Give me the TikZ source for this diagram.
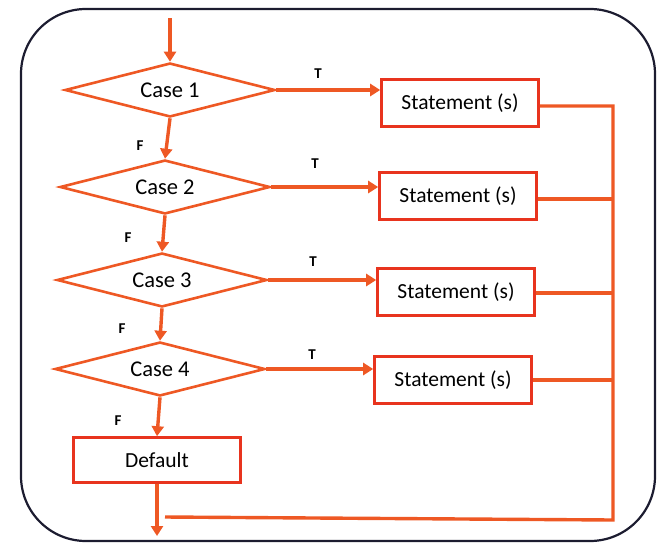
\documentclass[tikz,border=0pt]{standalone}
\usepackage{fontspec}
\setmainfont{Carlito}
\usetikzlibrary{shapes.geometric,arrows.meta}
\definecolor{flow}{RGB}{238,88,36}
\definecolor{stmt}{RGB}{232,52,30}
\definecolor{frame}{RGB}{28,28,48}
\tikzset{
  casebox/.style={diamond, draw=flow, line width=2.6pt, fill=white,
    minimum width=210pt, minimum height=54pt, aspect=4, inner sep=0pt,
    font=\fontsize{22.5}{25}\selectfont},
  stmtbox/.style={rectangle, draw=stmt, line width=2.6pt, fill=white,
    minimum width=157pt, minimum height=47pt, inner sep=0pt,
    font=\fontsize{21.5}{24}\selectfont},
  flowline/.style={draw=flow, line width=3.4pt},
  flowarrow/.style={flowline, -{Triangle[length=10pt,width=12pt]}},
  tflabel/.style={font=\fontsize{15}{17}\selectfont\bfseries, inner sep=0pt}
}
\begin{document}
\begin{tikzpicture}[x=1pt,y=-1pt]
\useasboundingbox (0,0) rectangle (659,550);
% outer frame
\draw[frame, line width=2.2pt, rounded corners=65pt] (21,9) rectangle (655,541);

% decisions
\node[casebox] (c1) at (170,90) {Case 1};
\node[casebox] (c2) at (165,187) {Case 2};
\node[casebox] (c3) at (162,280) {Case 3};
\node[casebox] (c4) at (160,369) {Case 4};
\node[stmtbox, minimum width=167pt, minimum height=45pt] (def) at (157,460) {Default};

% statements
\node[stmtbox] (s1) at (460,103) {Statement (s)};
\node[stmtbox] (s2) at (458,196) {Statement (s)};
\node[stmtbox] (s3) at (456,292) {Statement (s)};
\node[stmtbox] (s4) at (453,380) {Statement (s)};

% entry and exit
\coordinate (entry) at (170,18);
\coordinate (exit) at (157,536);
\draw[flowarrow] (entry) -- (c1.north);
\draw[flowarrow] (def.south) -- (exit);

% false branches
\draw[flowarrow] (c1.south) -- (c2.north);
\draw[flowarrow] (c2.south) -- (c3.north);
\draw[flowarrow] (c3.south) -- (c4.north);
\draw[flowarrow] (c4.south) -- (def.north);

% true branches
\draw[flowarrow] (c1.east) -- (c1.east -| s1.west);
\draw[flowarrow] (c2.east) -- (c2.east -| s2.west);
\draw[flowarrow] (c3.east) -- (c3.east -| s3.west);
\draw[flowarrow] (c4.east) -- (c4.east -| s4.west);

% collector on the right
\coordinate (bus1) at (613,106);
\coordinate (bus2) at (613,199);
\coordinate (bus3) at (613,293);
\coordinate (bus4) at (613,380);
\coordinate (busend) at (613,520);
\coordinate (join) at (165,517);
\draw[flowline] (s1.east |- bus1) -- (bus1) -- (busend) -- (join);
\draw[flowline] (s2.east |- bus2) -- (bus2);
\draw[flowline] (s3.east |- bus3) -- (bus3);
\draw[flowline] (s4.east |- bus4) -- (bus4);

% labels
\node[tflabel] (t1) at (318,74) {T};
\node[tflabel] (t2) at (315,164) {T};
\node[tflabel] (t3) at (313,262) {T};
\node[tflabel] (t4) at (312,355) {T};
\node[tflabel] (f1) at (140,146) {F};
\node[tflabel] (f2) at (128,238) {F};
\node[tflabel] (f3) at (122,329) {F};
\node[tflabel] (f4) at (118,421) {F};
\end{tikzpicture}
\end{document}
